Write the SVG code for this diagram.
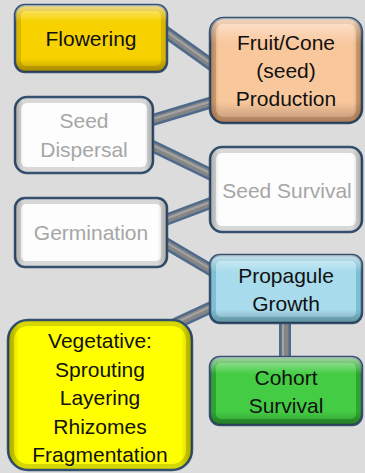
<svg xmlns="http://www.w3.org/2000/svg" width="365" height="473" viewBox="0 0 365 473">
<defs>
<linearGradient id="hl" x1="0" y1="0" x2="0" y2="1">
<stop offset="0" stop-color="#fff" stop-opacity="0.55"/>
<stop offset="0.25" stop-color="#fff" stop-opacity="0"/>
<stop offset="0.8" stop-color="#000" stop-opacity="0"/>
<stop offset="1" stop-color="#000" stop-opacity="0.25"/>
</linearGradient>
<linearGradient id="side" x1="0" y1="0" x2="1" y2="0">
<stop offset="0" stop-color="#000" stop-opacity="0.22"/>
<stop offset="0.06" stop-color="#000" stop-opacity="0"/>
<stop offset="0.94" stop-color="#000" stop-opacity="0"/>
<stop offset="1" stop-color="#000" stop-opacity="0.22"/>
</linearGradient>
<style>
.box{stroke:#34506e;stroke-width:2.5}
.in{stroke:none}
.t{font-family:"Liberation Sans",Arial,sans-serif;font-size:21px;text-anchor:middle;fill:#111}
.g{fill:#a6a6a6}
.c1{stroke:#4f6b8c;stroke-width:12;fill:none;stroke-linecap:butt}
.c2{stroke:#858585;stroke-width:7;fill:none}
.c3{stroke:#a3a3a3;stroke-width:2;fill:none}
</style>
</defs>
<rect width="365" height="473" fill="#dcdcdc"/>
<g id="connectors">
<path class="c1" d="M160,28 L216,68 M146,122 L216,101 M146,143 L216,177 M160,222 L216,201 M160,240 L216,273 M175,324 L216,305"/>
<path class="c1" d="M285,318 L285,362" stroke-width="16"/>
<path class="c2" d="M160,28 L216,68 M146,122 L216,101 M146,143 L216,177 M160,222 L216,201 M160,240 L216,273 M175,324 L216,305"/>
<path class="c2" d="M285,318 L285,362" stroke-width="10"/>
<path class="c3" d="M160,27 L216,67 M146,121 L216,100 M146,142 L216,176 M160,221 L216,200 M160,239 L216,272 M175,323 L216,304 M283,318 L283,362"/>
</g>
<g id="flowering">
<rect class="box" x="15" y="5" width="152" height="67" rx="10" fill="#d9b400"/>
<rect class="in" x="21" y="11" width="140" height="55" rx="5" fill="#f7d200"/>
<rect x="15" y="5" width="152" height="67" rx="10" fill="url(#hl)"/>
<text class="t" x="91" y="46">Flowering</text>
</g>
<g id="fruit">
<rect class="box" x="210" y="18" width="152" height="105" rx="14" fill="#e0a676"/>
<rect class="in" x="216" y="24" width="140" height="93" rx="8" fill="#f9c79c"/>
<rect x="210" y="18" width="152" height="105" rx="14" fill="url(#hl)"/>
<rect x="210" y="18" width="152" height="105" rx="14" fill="url(#side)"/>
<text class="t" x="286" y="50">Fruit/Cone</text>
<text class="t" x="286" y="78">(seed)</text>
<text class="t" x="286" y="106">Production</text>
</g>
<g id="dispersal">
<rect class="box" x="15" y="97" width="138" height="76" rx="12" fill="#d8d8d8"/>
<rect class="in" x="21" y="103" width="126" height="64" rx="6" fill="#fdfdfd"/>
<rect x="15" y="97" width="138" height="76" rx="12" fill="url(#side)"/>
<text class="t g" x="84" y="128">Seed</text>
<text class="t g" x="84" y="157">Dispersal</text>
</g>
<g id="survival">
<rect class="box" x="210" y="147" width="152" height="85" rx="12" fill="#d8d8d8"/>
<rect class="in" x="216" y="153" width="140" height="73" rx="6" fill="#fdfdfd"/>
<rect x="210" y="147" width="152" height="85" rx="12" fill="url(#side)"/>
<text class="t g" x="287" y="198">Seed Survival</text>
</g>
<g id="germination">
<rect class="box" x="15" y="198" width="152" height="69" rx="10" fill="#d8d8d8"/>
<rect class="in" x="21" y="204" width="140" height="57" rx="5" fill="#fdfdfd"/>
<rect x="15" y="198" width="152" height="69" rx="10" fill="url(#side)"/>
<text class="t g" x="91" y="240">Germination</text>
</g>
<g id="propagule">
<rect class="box" x="210" y="255" width="152" height="68" rx="10" fill="#7fbfd3"/>
<rect class="in" x="216" y="261" width="140" height="56" rx="5" fill="#a8dcec"/>
<rect x="210" y="255" width="152" height="68" rx="10" fill="url(#hl)"/>
<text class="t" x="286" y="283">Propagule</text>
<text class="t" x="286" y="311">Growth</text>
</g>
<g id="vegetative">
<rect class="box" x="8" y="320" width="184" height="150" rx="20" fill="#d6d600"/>
<rect class="in" x="14" y="326" width="172" height="138" rx="14" fill="#ffff00"/>
<rect x="8" y="320" width="184" height="150" rx="20" fill="url(#side)"/>
<text class="t" x="100" y="348">Vegetative:</text>
<text class="t" x="100" y="377">Sprouting</text>
<text class="t" x="100" y="405">Layering</text>
<text class="t" x="100" y="434">Rhizomes</text>
<text class="t" x="100" y="462">Fragmentation</text>
</g>
<g id="cohort">
<rect class="box" x="210" y="357" width="152" height="68" rx="10" fill="#2fa52f"/>
<rect class="in" x="216" y="363" width="140" height="56" rx="5" fill="#44cc44"/>
<rect x="210" y="357" width="152" height="68" rx="10" fill="url(#hl)"/>
<text class="t" x="286" y="385">Cohort</text>
<text class="t" x="286" y="413">Survival</text>
</g>
</svg>
